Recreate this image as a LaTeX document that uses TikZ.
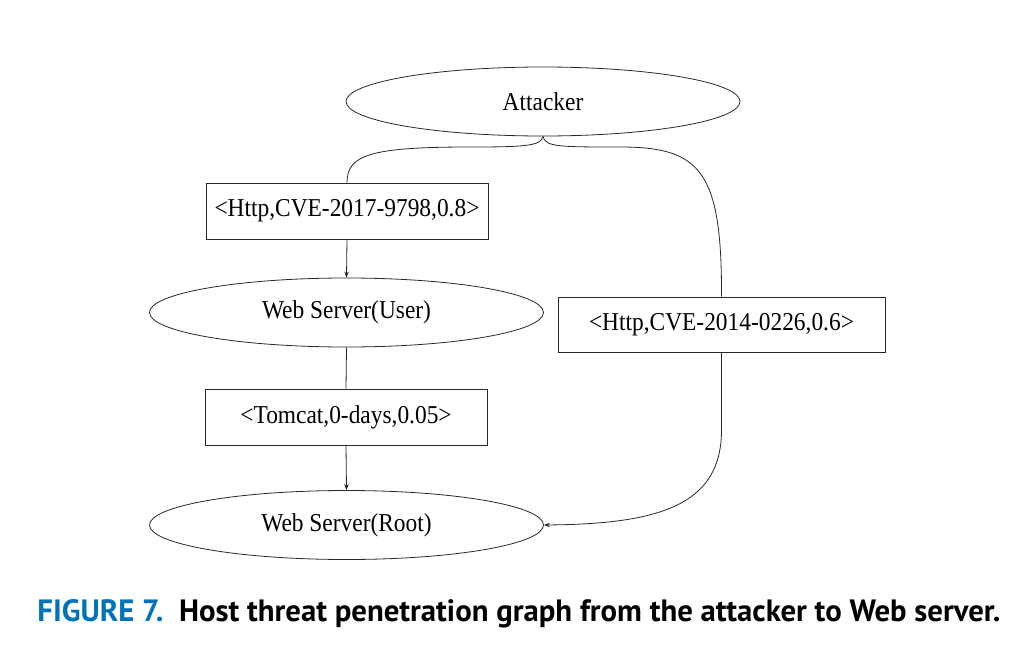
\documentclass[tikz,border=0pt]{standalone}
\usepackage{fontspec}
\setmainfont{Liberation Serif}
\newfontfamily\capfont{PT Sans}
\usetikzlibrary{shapes.geometric,arrows.meta}
\definecolor{capblue}{RGB}{0,114,185}
\definecolor{linegray}{RGB}{40,40,40}
\newcommand\mylbl[1]{\scalebox{1}[1.1]{#1}}
\begin{document}
\begin{tikzpicture}[x=1pt,y=-1pt,
  every node/.style={font=\fontsize{23.4}{26}\selectfont, inner sep=0pt, draw=linegray, line width=0.8pt},
  state/.style={ellipse, minimum width=394pt, minimum height=69pt},
  vulbox/.style={rectangle, minimum width=282pt, minimum height=56pt},
  conn/.style={draw=linegray, line width=0.8pt},
  arr/.style={conn, -{Stealth[length=6pt,width=4.5pt]}}]
\useasboundingbox (0,0) rectangle (1025,658);
\node[state] (att) at (543,101.5) {\mylbl{Attacker}};
\node[vulbox] (b1) at (347,211) {\mylbl{<Http,CVE-2017-9798,0.8>}};
\node[state] (wsu) at (346.5,312.5) {\mylbl{Web Server(User)}};
\node[vulbox] (b2) at (346,417) {\mylbl{<Tomcat,0-days,0.05>}};
\node[state] (wsr) at (346.5,525) {\mylbl{Web Server(Root)}};
\node[rectangle, minimum width=327pt, minimum height=55pt] (b3) at (721.5,324.5) {\mylbl{<Http,CVE-2014-0226,0.6>}};
% connectors
\draw[conn] (att.south) .. controls (541,146) and (525,147) .. (470,147)
  .. controls (370,147) and (347,155) .. (b1.north);
\draw[conn] (att.south) .. controls (545,147) and (560,147) .. (620,147)
  .. controls (700,147) and (722,170) .. (b3.north);
\draw[arr] (b1.south) -- (wsu.north);
\draw[conn] (wsu.south) -- (b2.north);
\draw[arr] (b2.south) -- (wsr.north);
\draw[arr] (b3.south) -- (721.5,430) .. controls (721.5,505) and (660,524) .. (wsr.east);
% caption
\node[draw=none, anchor=base west, inner sep=0pt] (cap) at (37,621)
  {\resizebox{963pt}{22pt}{\capfont\bfseries\textcolor{capblue}{FIGURE 7.}\ \ Host threat penetration graph from the attacker to Web server.}};
\end{tikzpicture}
\end{document}
